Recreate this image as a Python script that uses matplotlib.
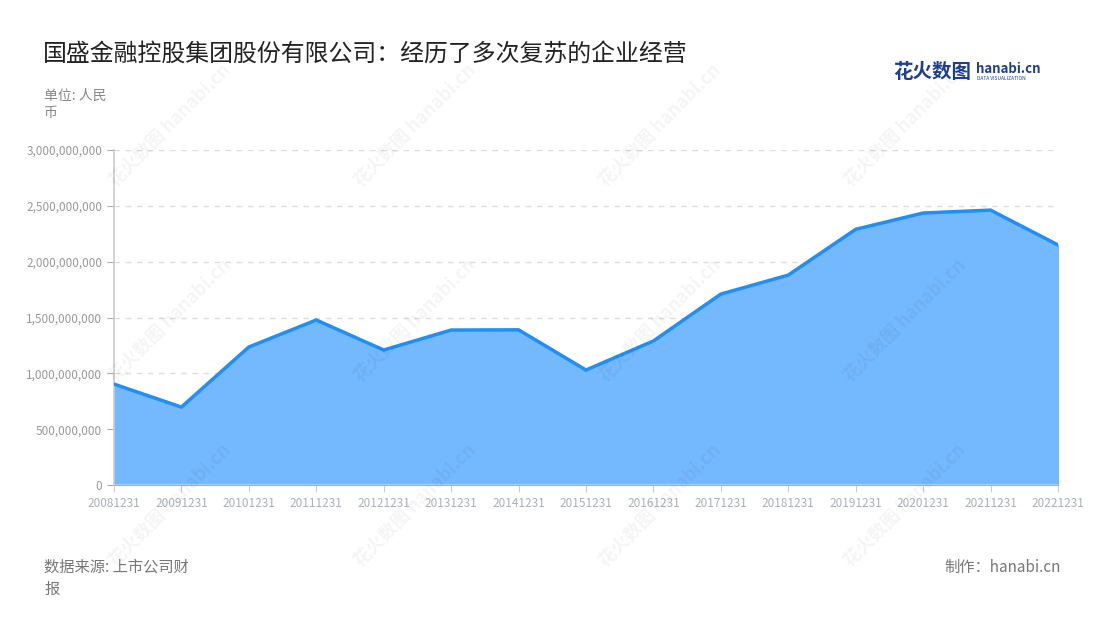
import matplotlib
matplotlib.use('Agg')
from matplotlib import pyplot as plt
from matplotlib.ticker import FuncFormatter

plt.rcParams['font.family'] = ['Noto Sans CJK SC', 'DejaVu Sans']

# data
years = ['20081231', '20091231', '20101231', '20111231', '20121231',
         '20131231', '20141231', '20151231', '20161231', '20171231',
         '20181231', '20191231', '20201231', '20211231', '20221231']
values = [0.904e9, 0.698e9, 1.236e9, 1.478e9, 1.209e9,
          1.388e9, 1.390e9, 1.030e9, 1.290e9, 1.710e9,
          1.880e9, 2.290e9, 2.436e9, 2.462e9, 2.150e9]

title = '国盛金融控股集团股份有限公司：经历了多次复苏的企业经营'
unit = '单位: 人民\n币'
source = '数据来源: 上市公司财\n报'
credit = '制作：hanabi.cn'

fig = plt.figure(figsize=(11, 6.2), dpi=100)
ax = fig.add_axes([0.1036, 0.2177, 0.8582, 0.5403])

x = list(range(len(years)))
ax.fill_between(x, values, 0, color='#74b8fd', zorder=2)
ax.plot(x, values, color='#1e8ffb', linewidth=2.5, zorder=3, solid_joinstyle='miter')

ax.set_xlim(0, len(years) - 1)
ax.set_ylim(0, 3e9)
ax.set_yticks([0, 0.5e9, 1e9, 1.5e9, 2e9, 2.5e9, 3e9])
ax.yaxis.set_major_formatter(FuncFormatter(lambda v, p: '{:,.0f}'.format(v)))
ax.set_xticks(x)
ax.set_xticklabels(years)

ax.grid(axis='y', color='#dddddd', linestyle=(0, (4, 4)), linewidth=1, zorder=1)
for s in ['top', 'right', 'bottom']:
    ax.spines[s].set_visible(False)
ax.spines['left'].set_color('#cccccc')
ax.spines['left'].set_linewidth(1.2)
ax.axhline(0, color='#a8d0fb', linewidth=1.5, zorder=4)
ax.tick_params(axis='y', colors='#aaaaaa', labelcolor='#999999', labelsize=8.5, length=5)
ax.tick_params(axis='x', colors='#cccccc', labelcolor='#aab0bb', labelsize=8.5, length=5)

# watermarks
for wx in [170, 415, 660, 905]:
    for wy in [125, 320, 505]:
        fig.text(wx / 1100, 1 - wy / 620, '花火数图 hanabi.cn', rotation=45,
                 fontsize=13, color='#000000', alpha=0.045, ha='center', va='center',
                 fontweight='bold', zorder=10)

fig.text(43 / 1100, 1 - 54 / 620, title, fontsize=17.2, color='#222222', va='center')
fig.text(44 / 1100, 1 - 104 / 620, unit, fontsize=10, color='#888888', va='center',
         linespacing=1.3)
fig.text(44 / 1100, 1 - 578 / 620, source, fontsize=11, color='#777777', va='center',
         linespacing=1.4)
fig.text(1061 / 1100, 1 - 567 / 620, credit, fontsize=11, color='#777777', va='center',
         ha='right')

# logo
fig.text(893 / 1100, 1 - 72 / 620, '花火数图', fontsize=14, color='#1d3f8f',
         fontweight='bold', va='center')
fig.text(976 / 1100, 1 - 69 / 620, 'hanabi.cn', fontsize=9.5, color='#1d3f8f',
         fontweight='bold', va='center')
fig.text(977 / 1100, 1 - 79 / 620, 'DATA VISUALIZATION', fontsize=3.5, color='#1d3f8f',
         va='center')

fig.savefig('out.png', dpi=100)
